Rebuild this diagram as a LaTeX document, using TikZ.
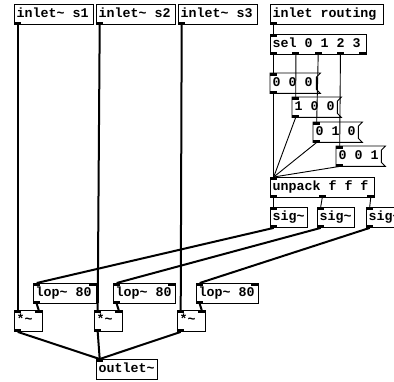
\documentclass[tikz,border=0pt]{standalone}
\usepackage{fontspec}
\newfontfamily\pdfont{Liberation Mono}
\tikzset{
  pdbox/.style={draw=black, line width=0.9pt, inner sep=0pt, anchor=north west},
  pdmsgbox/.style={draw=none, inner sep=0pt, anchor=north west},
  pdtxt/.style={font=\pdfont\bfseries\fontsize{13.3}{14}\selectfont, inner sep=0pt, anchor=base west, text=black},
  iolet/.style={fill=black, draw=none, minimum width=7pt, minimum height=2.6pt, inner sep=0pt},
  sigwire/.style={line width=2pt},
  ctlwire/.style={line width=0.9pt},
  msgline/.style={line width=0.9pt, line join=miter},
}
\newcommand\pdobj[6]{%
  \node[pdbox, minimum width=#4pt, minimum height=#5pt] (#1) at (#2pt,-#3pt) {};
  \node[pdtxt] (#1-t) at ([xshift=2.5pt,yshift=-13.8pt]#1.north west) {#6};}
\newcommand\pdmsg[6]{%
  \node[pdmsgbox, minimum width=#4pt, minimum height=#5pt] (#1) at (#2pt,-#3pt) {};
  \draw[msgline] (#1.north west) -- ([xshift=4pt]#1.north east) -- ([yshift=-4pt]#1.north east)
     -- ([yshift=4pt]#1.south east) -- ([xshift=4pt]#1.south east) -- (#1.south west) -- cycle;
  \node[pdtxt] (#1-t) at ([xshift=2.5pt,yshift=-13.8pt]#1.north west) {#6};}
\newcommand\pdin[3]{\node[iolet, anchor=north west] (#1) at ([xshift=#3pt]#2.north west) {};}
\newcommand\pdout[3]{\node[iolet, anchor=south west] (#1) at ([xshift=#3pt]#2.south west) {};}
\begin{document}
\begin{tikzpicture}[x=1pt,y=1pt]
\useasboundingbox (0,0) rectangle (394,-381);
\clip (0,0) rectangle (394,-381);
% objects
\pdobj{in1}{14}{4}{79}{20}{inlet\textasciitilde{} s1}
\pdobj{in2}{96}{4}{79}{20}{inlet\textasciitilde{} s2}
\pdobj{in3}{178}{4}{79}{20}{inlet\textasciitilde{} s3}
\pdobj{inr}{270}{4}{113}{20}{inlet routing}
\pdobj{sel}{270}{34}{96}{20}{sel 0 1 2 3}
\pdmsg{m0}{270}{73}{46}{20}{0 0 0}
\pdmsg{m1}{292}{97}{45}{20}{1 0 0}
\pdmsg{m2}{313}{122}{45}{20}{0 1 0}
\pdmsg{m3}{336}{146}{45}{20}{0 0 1}
\pdobj{unp}{270}{177}{104}{20}{unpack f f f}
\pdobj{sg1}{270}{207}{37}{20}{sig\textasciitilde}
\pdobj{sg2}{317}{207}{37}{20}{sig\textasciitilde}
\pdobj{sg3}{366}{207}{37}{20}{sig\textasciitilde}
\pdobj{lp1}{33}{283}{63}{20}{lop\textasciitilde{} 80}
\pdobj{lp2}{113}{283}{62}{20}{lop\textasciitilde{} 80}
\pdobj{lp3}{196}{283}{62}{20}{lop\textasciitilde{} 80}
\pdobj{mu1}{14}{310}{28}{21}{*\textasciitilde}
\pdobj{mu2}{94}{310}{28}{21}{*\textasciitilde}
\pdobj{mu3}{177}{310}{28}{21}{*\textasciitilde}
\pdobj{out}{96}{359}{61}{20}{outlet\textasciitilde}
% iolets
\pdout{in1o}{in1}{0} \pdout{in2o}{in2}{0} \pdout{in3o}{in3}{0} \pdout{inro}{inr}{0}
\pdin{seli}{sel}{0}
\pdout{selo0}{sel}{0} \pdout{selo1}{sel}{22.25} \pdout{selo2}{sel}{44.5} \pdout{selo3}{sel}{66.75} \pdout{selo4}{sel}{89}
\pdin{m0i}{m0}{0} \pdout{m0o}{m0}{0}
\pdin{m1i}{m1}{0} \pdout{m1o}{m1}{0}
\pdin{m2i}{m2}{0} \pdout{m2o}{m2}{0}
\pdin{m3i}{m3}{0} \pdout{m3o}{m3}{0}
\pdin{unpi}{unp}{0}
\pdout{unpo0}{unp}{0} \pdout{unpo1}{unp}{48.5} \pdout{unpo2}{unp}{97}
\pdin{sg1i}{sg1}{0} \pdout{sg1o}{sg1}{0}
\pdin{sg2i}{sg2}{0} \pdout{sg2o}{sg2}{0}
\pdin{sg3i}{sg3}{0} \pdout{sg3o}{sg3}{0}
\pdin{lp1i0}{lp1}{0} \pdin{lp1i1}{lp1}{56} \pdout{lp1o}{lp1}{0}
\pdin{lp2i0}{lp2}{0} \pdin{lp2i1}{lp2}{55} \pdout{lp2o}{lp2}{0}
\pdin{lp3i0}{lp3}{0} \pdin{lp3i1}{lp3}{55} \pdout{lp3o}{lp3}{0}
\pdin{mu1i0}{mu1}{0} \pdin{mu1i1}{mu1}{21} \pdout{mu1o}{mu1}{0}
\pdin{mu2i0}{mu2}{0} \pdin{mu2i1}{mu2}{21} \pdout{mu2o}{mu2}{0}
\pdin{mu3i0}{mu3}{0} \pdin{mu3i1}{mu3}{21} \pdout{mu3o}{mu3}{0}
\pdin{outi}{out}{0}
% control connections
\draw[ctlwire] (inro.south) -- (seli.north);
\draw[ctlwire] (selo0.south) -- (m0i.north);
\draw[ctlwire] (selo1.south) -- (m1i.north);
\draw[ctlwire] (selo2.south) -- (m2i.north);
\draw[ctlwire] (selo3.south) -- (m3i.north);
\draw[ctlwire] (m0o.south) -- (unpi.north);
\draw[ctlwire] (m1o.south) -- (unpi.north);
\draw[ctlwire] (m2o.south) -- (unpi.north);
\draw[ctlwire] (m3o.south) -- (unpi.north);
\draw[ctlwire] (unpo0.south) -- (sg1i.north);
\draw[ctlwire] (unpo1.south) -- (sg2i.north);
\draw[ctlwire] (unpo2.south) -- (sg3i.north);
% signal connections
\draw[sigwire] (in1o.south) -- (mu1i0.north);
\draw[sigwire] (in2o.south) -- (mu2i0.north);
\draw[sigwire] (in3o.south) -- (mu3i0.north);
\draw[sigwire] (sg1o.south) -- (lp1i0.north);
\draw[sigwire] (sg2o.south) -- (lp2i0.north);
\draw[sigwire] (sg3o.south) -- (lp3i0.north);
\draw[sigwire] (lp1o.south) -- (mu1i1.north);
\draw[sigwire] (lp2o.south) -- (mu2i1.north);
\draw[sigwire] (lp3o.south) -- (mu3i1.north);
\draw[sigwire] (mu1o.south) -- (outi.north);
\draw[sigwire] (mu2o.south) -- (outi.north);
\draw[sigwire] (mu3o.south) -- (outi.north);
\end{tikzpicture}
\end{document}
